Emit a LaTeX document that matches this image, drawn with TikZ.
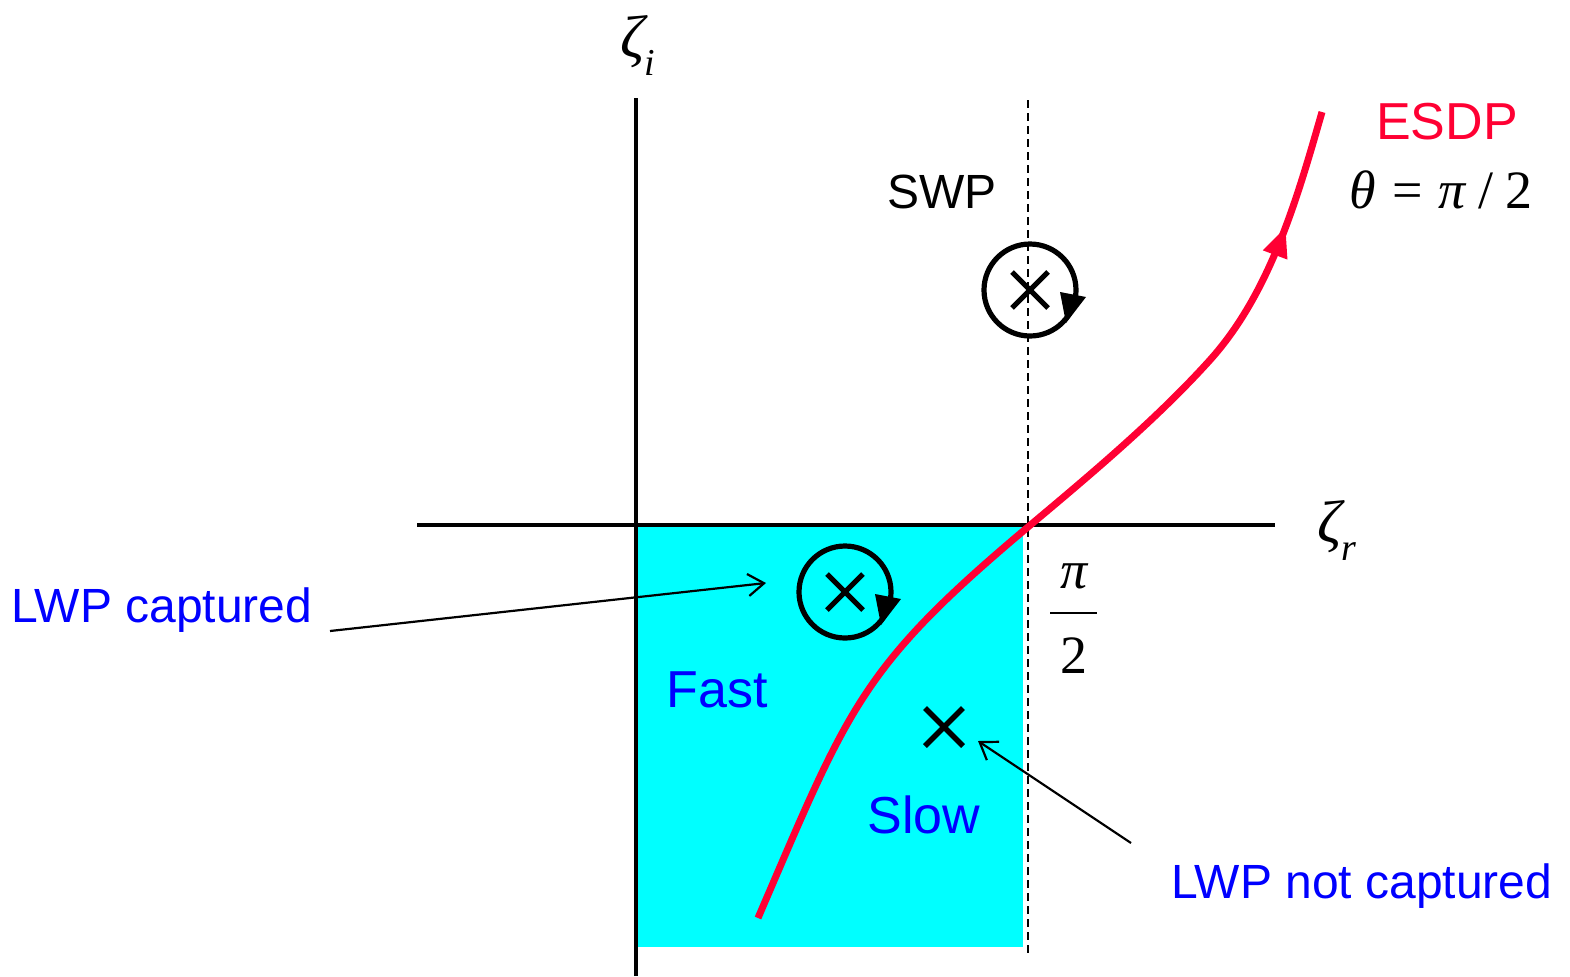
\documentclass[tikz,border=0pt]{standalone}
\usepackage{fontspec}
\setmainfont{Liberation Sans}
\newfontfamily\tms{Liberation Serif}
\usetikzlibrary{arrows.meta,decorations.markings,calc}
\definecolor{myred}{RGB}{255,0,51}
\definecolor{myblue}{RGB}{0,0,255}
\definecolor{mycyan}{RGB}{0,255,255}
\tikzset{
  axis/.style={line width=1.7pt,black},
  circ/.style={line width=2.6pt,black},
  crossln/.style={line width=2.5pt,black},
  pointer/.style={line width=1.1pt,-{Straight Barb[length=8pt,width=11pt]}},
  bluelbl/.style={text=myblue,font=\fontsize{24}{28}\selectfont,inner sep=0pt},
  regionlbl/.style={text=myblue,font=\fontsize{26}{30}\selectfont,inner sep=0pt},
  mathlbl/.style={font=\tms\fontsize{27}{30}\selectfont,inner sep=0pt},
}
\begin{document}
\begin{tikzpicture}[x=0.5pt,y=-0.5pt]
\useasboundingbox (0,0) rectangle (1570,976);
% region
\fill[mycyan] (638,527) rectangle (1023,947);
% axes
\coordinate (yb) at (636,976);
\coordinate (yt) at (636,98);
\coordinate (xl) at (417,525);
\coordinate (xr) at (1275,525);
\draw[axis] (yb) -- (yt);
\draw[axis] (xl) -- (xr);
\coordinate (dt) at (1028,100);
\coordinate (db) at (1028,955);
\draw[line width=1.1pt,dash pattern=on 4pt off 2.5pt] (dt) -- (db);
% axis labels
\node[mathlbl,font=\tms\fontsize{30}{32}\selectfont] (zi) at (638,45) {\itshape ζ\raisebox{-0.3em}{\fontsize{19}{22}\selectfont i}};
\node[mathlbl,font=\tms\fontsize{30}{32}\selectfont] (zr) at (1337,530) {\itshape ζ\raisebox{-0.3em}{\fontsize{19}{22}\selectfont r}};
% pi/2
\node[mathlbl] (pinum) at (1074,576) {\itshape π};
\node[mathlbl] (pden) at (1074,656) {2};
\coordinate (fl) at (1050,613);
\coordinate (fr) at (1097,613);
\draw[line width=1.3pt] (fl) -- (fr);
% red curve
\coordinate (p0) at (758,918);
\coordinate (p1) at (1028,527);
\coordinate (p2) at (1210,360);
\coordinate (p3) at (1322,112);
\draw[myred,line width=3.5pt,line cap=butt,
  postaction={decorate},
  decoration={markings,mark=at position 0.88 with {\arrow{Triangle[length=15pt,width=12pt]}}}]
  (p0) .. controls (849,707) and (859.5,668.5) .. (p1)
       .. controls (1089.3,475.6) and (1156.5,419.4) .. (p2)
       .. controls (1270.2,293.1) and (1297.2,198.5) .. (p3);
\node[regionlbl,text=myred] (esdp) at (1447,122) {ESDP};
\node[mathlbl] (theta) at (1441,190) {\itshape θ\upshape\hspace{8pt}=\hspace{8pt}\itshape π\upshape\hspace{6pt}/\hspace{6pt}2};
% SWP
\node[inner sep=0pt,font=\fontsize{24}{28}\selectfont] (swplbl) at (942,192) {SWP};
\coordinate (swp) at (1030,290);
\draw[circ] (swp) circle[radius=46];
\draw[crossln] ($(swp)+(-18,-18)$) -- ($(swp)+(18,18)$);
\draw[crossln] ($(swp)+(-18,18)$) -- ($(swp)+(18,-18)$);
\fill ($(swp)+(30,2)$) -- ($(swp)+(56,7)$) -- ($(swp)+(36,33)$) -- cycle;
% LWP captured
\coordinate (lwc) at (845,592);
\draw[circ] (lwc) circle[radius=46];
\draw[crossln] ($(lwc)+(-18,-18)$) -- ($(lwc)+(18,18)$);
\draw[crossln] ($(lwc)+(-18,18)$) -- ($(lwc)+(18,-18)$);
\fill ($(lwc)+(30,2)$) -- ($(lwc)+(56,7)$) -- ($(lwc)+(36,33)$) -- cycle;
% LWP not captured
\coordinate (lwn) at (944,727);
\draw[line width=2.8pt] ($(lwn)+(-19,-19)$) -- ($(lwn)+(19,19)$);
\draw[line width=2.8pt] ($(lwn)+(-19,19)$) -- ($(lwn)+(19,-19)$);
% labels
\node[bluelbl] (lblc) at (162,610) {LWP captured};
\node[bluelbl] (lbln) at (1362,886) {LWP not captured};
\node[regionlbl] (fast) at (717,690) {Fast};
\node[regionlbl] (slow) at (924,815) {Slow};
\coordinate (a1) at (330,631);
\coordinate (t1) at (766,583);
\draw[pointer] (a1) -- (t1);
\coordinate (a2) at (1131,843);
\coordinate (t2) at (978,741);
\draw[pointer] (a2) -- (t2);
\end{tikzpicture}
\end{document}
